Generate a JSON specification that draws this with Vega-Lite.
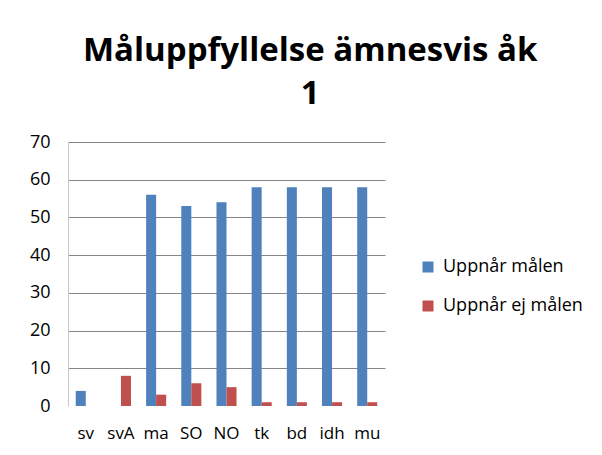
{
  "$schema": "https://vega.github.io/schema/vega-lite/v6.json",
  "autosize": {"type": "none"},
  "width": 317,
  "height": 264,
  "padding": {"left": 68, "top": 142, "right": 217, "bottom": 49},
  "background": "white",
  "title": {
    "text": ["Måluppfyllelse ämnesvis åk", "1"],
    "font": "Open Sans",
    "fontSize": 33,
    "fontWeight": "bold",
    "color": "#000000",
    "anchor": "middle",
    "frame": "bounds",
    "lineHeight": 43,
    "offset": 22,
    "dx": 4
  },
  "data": {
    "values": [
      {"subject": "sv", "series": "Uppnår målen", "value": 4},
      {"subject": "sv", "series": "Uppnår ej målen", "value": 0},
      {"subject": "svA", "series": "Uppnår målen", "value": 0},
      {"subject": "svA", "series": "Uppnår ej målen", "value": 8},
      {"subject": "ma", "series": "Uppnår målen", "value": 56},
      {"subject": "ma", "series": "Uppnår ej målen", "value": 3},
      {"subject": "SO", "series": "Uppnår målen", "value": 53},
      {"subject": "SO", "series": "Uppnår ej målen", "value": 6},
      {"subject": "NO", "series": "Uppnår målen", "value": 54},
      {"subject": "NO", "series": "Uppnår ej målen", "value": 5},
      {"subject": "tk", "series": "Uppnår målen", "value": 58},
      {"subject": "tk", "series": "Uppnår ej målen", "value": 1},
      {"subject": "bd", "series": "Uppnår målen", "value": 58},
      {"subject": "bd", "series": "Uppnår ej målen", "value": 1},
      {"subject": "idh", "series": "Uppnår målen", "value": 58},
      {"subject": "idh", "series": "Uppnår ej målen", "value": 1},
      {"subject": "mu", "series": "Uppnår målen", "value": 58},
      {"subject": "mu", "series": "Uppnår ej målen", "value": 1}
    ]
  },
  "mark": {"type": "bar"},
  "encoding": {
    "x": {
      "field": "subject",
      "type": "nominal",
      "sort": ["sv", "svA", "ma", "SO", "NO", "tk", "bd", "idh", "mu"],
      "scale": {"paddingInner": 0.43, "paddingOuter": 0.22},
      "axis": {
        "title": null,
        "labelAngle": 0,
        "domain": false,
        "ticks": false,
        "labelPadding": 19,
        "labelFont": "Open Sans",
        "labelFontSize": 17,
        "labelColor": "#000000"
      }
    },
    "xOffset": {
      "field": "series",
      "type": "nominal",
      "sort": ["Uppnår målen", "Uppnår ej målen"],
      "scale": {"paddingInner": 0, "paddingOuter": 0}
    },
    "y": {
      "field": "value",
      "type": "quantitative",
      "scale": {"domain": [0, 70]},
      "axis": {
        "title": null,
        "values": [0, 10, 20, 30, 40, 50, 60, 70],
        "domain": true,
        "domainColor": "#c8c8c8",
        "ticks": false,
        "labelPadding": 18,
        "labelFont": "Open Sans",
        "labelFontSize": 18,
        "labelColor": "#000000",
        "gridColor": {"condition": {"test": "datum.value === 0", "value": "transparent"}, "value": "#868686"},
        "gridWidth": 1
      }
    },
    "color": {
      "field": "series",
      "type": "nominal",
      "sort": ["Uppnår målen", "Uppnår ej målen"],
      "scale": {"domain": ["Uppnår målen", "Uppnår ej målen"], "range": ["#4F81BD", "#C0504D"]},
      "legend": {
        "title": null,
        "orient": "none",
        "legendX": 351,
        "legendY": 116,
        "symbolType": "square",
        "symbolSize": 121,
        "symbolStrokeWidth": 0,
        "labelFont": "Open Sans",
        "labelFontSize": 18,
        "labelColor": "#000000",
        "rowPadding": 21,
        "labelOffset": 6
      }
    }
  },
  "config": {"view": {"stroke": null}}
}
